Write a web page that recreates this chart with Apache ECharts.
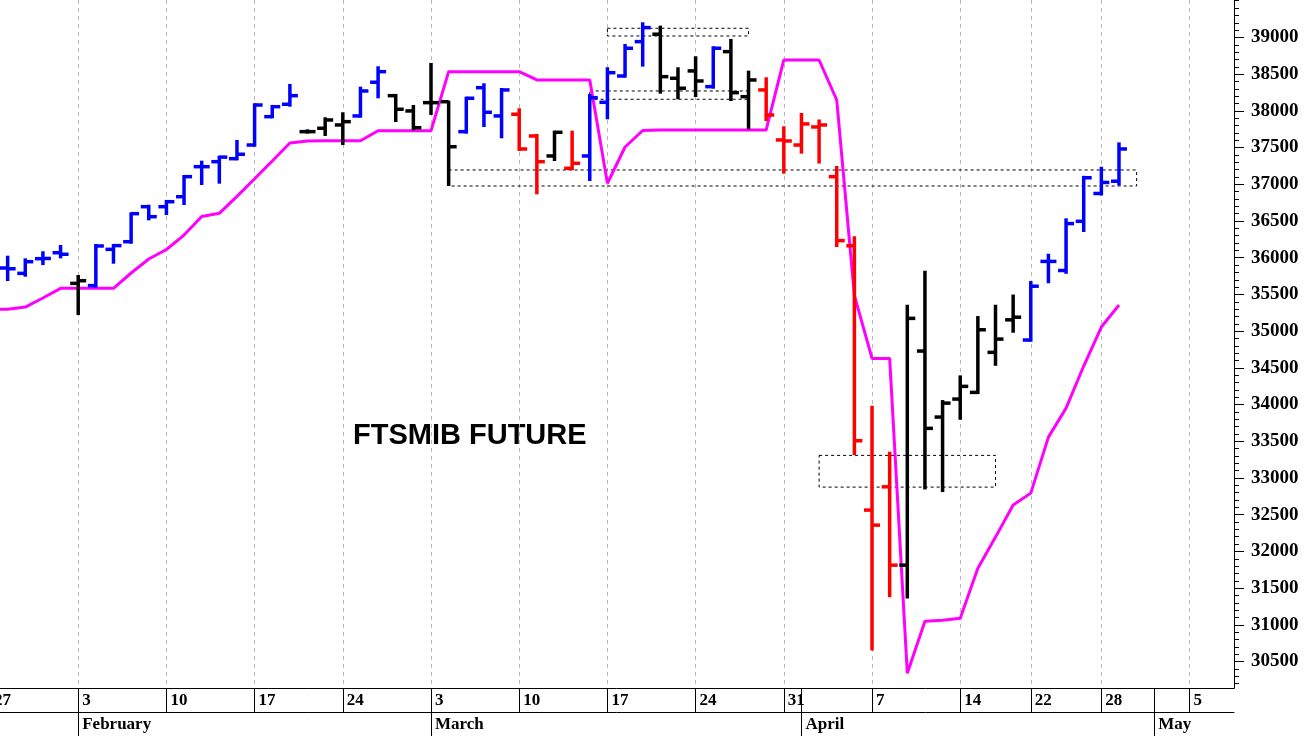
<!DOCTYPE html>
<html><head><meta charset="utf-8">
<script src="https://cdn.jsdelivr.net/npm/echarts@6/dist/echarts.min.js"></script>
<style>html,body{margin:0;padding:0;background:#fff}#c{width:1305px;height:736px}</style>
</head><body><div id="c"></div>
<script>
// trading days (index = position on the time axis)
const dates = ['2025-01-27','2025-01-28','2025-01-29','2025-01-30','2025-01-31',
 '2025-02-03','2025-02-04','2025-02-05','2025-02-06','2025-02-07',
 '2025-02-10','2025-02-11','2025-02-12','2025-02-13','2025-02-14',
 '2025-02-17','2025-02-18','2025-02-19','2025-02-20','2025-02-21',
 '2025-02-24','2025-02-25','2025-02-26','2025-02-27','2025-02-28',
 '2025-03-03','2025-03-04','2025-03-05','2025-03-06','2025-03-07',
 '2025-03-10','2025-03-11','2025-03-12','2025-03-13','2025-03-14',
 '2025-03-17','2025-03-18','2025-03-19','2025-03-20','2025-03-21',
 '2025-03-24','2025-03-25','2025-03-26','2025-03-27','2025-03-28',
 '2025-03-31','2025-04-01','2025-04-02','2025-04-03','2025-04-04',
 '2025-04-07','2025-04-08','2025-04-09','2025-04-10','2025-04-11',
 '2025-04-14','2025-04-15','2025-04-16','2025-04-17',
 '2025-04-22','2025-04-23','2025-04-24','2025-04-25',
 '2025-04-28','2025-04-29'];
const open  = [null,35860,35787,35987,36068,35651,35620,36114,36218,36695,36695,36831,37240,37308,37349,37535,37921,38090,37717,37763,37808,37931,38390,38207,37999,38112,38125,37717,38316,37931,37954,37658,37386,37218,37386,38117,38475,38943,39044,38444,38544,38330,38807,38193,38285,37604,37535,37781,37104,36163,32563,32880,31813,34729,33830,34075,34166,34711,35154,34879,35950,35826,36496,36875,37042];
const high  = [null,36014,35978,36074,36160,35751,36173,36173,36605,36708,36773,37113,37308,37376,37590,38090,38067,38353,37735,37899,37967,38316,38594,38217,38067,38639,38125,38180,38362,38298,38022,37672,37717,37717,38217,38580,38898,39193,39147,38580,38730,38866,38966,38534,38444,37777,37958,37869,37236,36278,33970,33343,35346,35809,34048,34384,35192,35346,35485,35669,36041,36523,37102,37225,37557];
const low   = [null,35696,35755,35914,36005,35233,35605,35932,36204,36523,36595,36732,37004,37022,37340,37526,37913,38071,37705,37672,37549,37921,38185,37862,37749,37958,36990,37703,37794,37640,37467,36877,37331,37204,37059,37899,38466,38616,38248,38172,38203,38316,38148,37763,37876,37158,37431,37296,36159,33326,30665,31391,31373,32858,32822,33807,34157,34542,34992,34870,35666,35795,36364,36861,36997];
const close = [null,35850,35946,35990,36047,35687,36160,36165,36600,36559,36763,37104,37240,37370,37409,38080,38057,38207,37717,37876,37853,38271,38534,38022,37771,38112,37512,38172,37981,38285,37481,37308,37708,37286,38180,38520,38853,39134,38466,38308,38407,38853,38248,38421,37944,37590,37822,37808,36233,33507,32358,31813,35174,33676,34020,34248,35019,34892,35190,35612,35950,36465,37089,37025,37481];
// bar trend state: 1 = up (blue), 0 = neutral (black), -1 = down (red)
const trend = [null,1,1,1,1,0,1,1,1,1,1,1,1,1,1,1,1,1,0,0,0,1,1,0,0,0,0,1,1,1,-1,-1,0,-1,1,1,1,1,0,0,0,1,0,0,-1,-1,-1,-1,-1,-1,-1,-1,0,0,0,0,0,0,0,1,1,1,1,1,1];
// magenta trailing line
const stopLine = [35297,35297,35328,35451,35583,35583,35583,35583,35792,35982,36112,36309,36561,36605,36835,37076,37317,37563,37590,37594,37594,37594,37730,37730,37730,37730,38534,38534,38534,38534,38534,38421,38421,38421,38421,37014,37508,37733,37740,37740,37740,37740,37740,37740,37740,38693,38693,38693,38148,35486,34629,34629,30342,31049,31063,31090,31772,32195,32631,32794,33557,33952,34525,35056,35356];
// dashed zones: [fromDayIdx, toDayIdx, upperPrice, lowerPrice]
const zones = [[35,43,39125,39020],[34,43,38271,38158],[26,65,37195,36977],[47,57,33308,32876]];
// time axis ticks
const weekTickIdx = [0,5,10,15,20,25,30,35,40,45,50,55,59,63,68];
const weekTickLabels = ['27','3','10','17','24','3','10','17','24','31','7','14','22','28','5'];
const monthTickIdx = [5,25,46,66];
const monthLabels = ['February','March','April','May'];
// price axis ticks
const priceLabels = [30500,31000,31500,32000,32500,33000,33500,34000,34500,35000,35500,36000,36500,37000,37500,38000,38500,39000];
const minorTicks = [];
for (let p = 30200; p <= 39500; p += 100) minorTicks.push(p);
const title = 'FTSMIB FUTURE';

const bars = [];
dates.forEach((d, i) => { if (open[i] != null) bars.push([i, open[i], high[i], low[i], close[i], trend[i]]); });

const XMIN = 0, XMAX = 70.52, YMIN = 30140, YMAX = 39510;
const serifBold = {fontFamily: '"Liberation Serif", "Times New Roman", serif', fontWeight: 'bold', color: '#000'};

function renderBar(params, api) {
  const x = api.value(0);
  const pO = api.coord([x, api.value(1)]);
  const pH = api.coord([x, api.value(2)]);
  const pL = api.coord([x, api.value(3)]);
  const pC = api.coord([x, api.value(4)]);
  const s = api.value(5);
  const col = s > 0 ? '#0000ff' : (s < 0 ? '#ff0000' : '#000000');
  const st = {stroke: col, lineWidth: 3.5, lineCap: 'butt'};
  const t = 8;
  return {type: 'group', children: [
    {type: 'line', shape: {x1: pH[0], y1: pH[1] - 1, x2: pL[0], y2: pL[1] + 1}, style: st},
    {type: 'line', shape: {x1: pO[0] - t, y1: pO[1], x2: pO[0], y2: pO[1]}, style: st},
    {type: 'line', shape: {x1: pC[0], y1: pC[1], x2: pC[0] + t, y2: pC[1]}, style: st}
  ]};
}

const chart = echarts.init(document.getElementById('c'), null, {renderer: 'canvas'});
chart.setOption({
  animation: false,
  backgroundColor: '#ffffff',
  grid: {left: -10, top: 0, width: 1244, height: 688, containLabel: false, outerBoundsMode: 'none'},
  xAxis: [
    {type: 'value', min: XMIN, max: XMAX, position: 'bottom',
     axisLine: {show: true, onZero: false, lineStyle: {color: '#000', width: 1}},
     axisTick: {show: true, customValues: weekTickIdx, length: 24, lineStyle: {color: '#000', width: 1}},
     axisLabel: Object.assign({customValues: weekTickIdx, formatter: v => weekTickLabels[weekTickIdx.indexOf(v)],
       align: 'left', verticalAlign: 'middle', margin: 13, padding: [0, 0, 0, 4], fontSize: 17, hideOverlap: false}, serifBold),
     splitLine: {show: true, lineStyle: {color: '#b8b8b8', width: 1, type: [4, 4]}}},
    {type: 'value', min: XMIN, max: XMAX, position: 'bottom', offset: 0,
     axisLine: {show: false, onZero: false},
     axisTick: {show: true, customValues: monthTickIdx, length: 48, lineStyle: {color: '#000', width: 1}},
     axisLabel: Object.assign({customValues: monthTickIdx, formatter: v => monthLabels[monthTickIdx.indexOf(v)],
       align: 'left', verticalAlign: 'middle', margin: 37, padding: [0, 0, 0, 4], fontSize: 17, hideOverlap: false}, serifBold),
     splitLine: {show: false}},
    {type: 'value', min: XMIN, max: XMAX, position: 'bottom', offset: 24,
     axisLine: {show: true, onZero: false, lineStyle: {color: '#000', width: 1}},
     axisTick: {show: false}, axisLabel: {show: false}, splitLine: {show: false}}
  ],
  yAxis: [
    {type: 'value', min: YMIN, max: YMAX, position: 'right',
     axisLine: {show: true, onZero: false, lineStyle: {color: '#000', width: 1}},
     axisTick: {show: true, customValues: minorTicks, length: 5, lineStyle: {color: '#000', width: 1}},
     axisLabel: {show: false}, splitLine: {show: false}},
    {type: 'value', min: YMIN, max: YMAX, position: 'right',
     axisLine: {show: true, onZero: false, lineStyle: {color: '#000', width: 1}},
     axisTick: {show: true, customValues: priceLabels, length: 10, lineStyle: {color: '#000', width: 1}},
     axisLabel: Object.assign({customValues: priceLabels, formatter: v => String(v), margin: 17, fontSize: 19, hideOverlap: false}, serifBold),
     splitLine: {show: false}}
  ],
  series: [
    {type: 'line', xAxisIndex: 0, yAxisIndex: 0, z: 2,
     data: stopLine.map((v, i) => [i, v]),
     showSymbol: false, symbol: 'none', silent: true,
     lineStyle: {color: '#ff00ff', width: 3},
     markArea: {silent: true, label: {show: false},
       itemStyle: {color: 'rgba(0,0,0,0)', borderColor: '#000', borderWidth: 1, borderType: [3, 3]},
       data: zones.map(z => [{xAxis: z[0], yAxis: z[2]}, {xAxis: z[1], yAxis: z[3]}])}},
    {type: 'custom', xAxisIndex: 0, yAxisIndex: 0, z: 3, silent: true,
     data: bars, encode: {x: 0, y: [1, 2, 3, 4]},
     renderItem: renderBar}
  ],
  graphic: [
    {type: 'text', left: 353, top: 421, silent: true,
     style: {text: title, fill: '#000', font: 'bold 29px "Liberation Sans", Arial, sans-serif'}}
  ]
});
</script>
</body></html>
